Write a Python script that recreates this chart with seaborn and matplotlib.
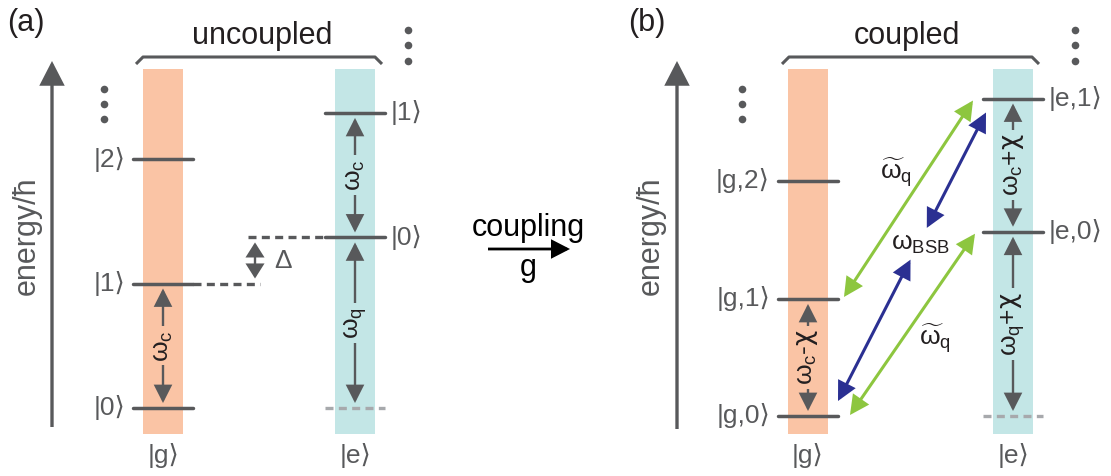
import matplotlib
matplotlib.use("Agg")
import matplotlib.pyplot as plt
from matplotlib.patches import Rectangle, FancyArrowPatch, PathPatch
from matplotlib.path import Path
import pandas as pd
import seaborn as sns

sns.set_theme(style="white")
plt.rcParams["font.family"] = ["Liberation Sans", "DejaVu Sans"]
plt.rcParams["mathtext.fontset"] = "custom"
plt.rcParams["mathtext.rm"] = "Liberation Sans"
plt.rcParams["mathtext.it"] = "Liberation Sans"
plt.rcParams["mathtext.sf"] = "DejaVu Sans"
plt.rcParams["mathtext.default"] = "regular"

# ---- level energies (in units of the bare cavity spacing) ----
uncoupled_g = [0.0, 1.0, 2.0]
uncoupled_g_labels = ["|0⟩", "|1⟩", "|2⟩"]
uncoupled_e = [1.37, 2.37]
uncoupled_e_labels = ["|0⟩", "|1⟩"]

coupled_g = [0.0, 0.94, 1.89]
coupled_g_labels = ["|g,0⟩", "|g,1⟩", "|g,2⟩"]
coupled_e = [1.48, 2.55]
coupled_e_labels = ["|e,0⟩", "|e,1⟩"]

column_labels = ["|g⟩", "|e⟩"]

# ---- styling ----
GRAY = "#58595B"
LIGHT = "#A7A9AC"
DARK = "#231F20"
ORANGE = "#FAC4A5"
CYAN = "#C3E6E6"
GREEN = "#8DC63F"
BLUE = "#2B3092"
SCALE = 124.5  # pixels per energy unit

fig = plt.figure(figsize=(11.11, 4.76), dpi=100)
ax = fig.add_axes([0, 0, 1, 1])
ax.set_xlim(0, 1111)
ax.set_ylim(476, 0)
ax.axis("off")

panels = {
    "a": dict(base=408, axis_x=52, axis_bot=427, g_bar=143, e_bar=335,
              g_lev=(133, 193), e_lev=(325, 385), dots_l=104, dots_r=408,
              tag_x=26, title="uncoupled", title_x=262, brace=(136, 382),
              elabel_x=27),
    "b": dict(base=416, axis_x=677, axis_bot=429, g_bar=788, e_bar=993,
              g_lev=(778, 838), e_lev=(983, 1043), dots_l=742, dots_r=1075,
              tag_x=647, title="coupled", title_x=907, brace=(782, 1039),
              elabel_x=651),
}


def ypos(p, E):
    return p["base"] - SCALE * E


def arrow(p0, p1, style="<|-|>", color=GRAY, lw=1.7, hl=0.75, hw=0.38, ms=14):
    ax.add_patch(FancyArrowPatch(
        p0, p1, arrowstyle=f"{style},head_length={hl},head_width={hw}",
        mutation_scale=ms, color=color, lw=lw, shrinkA=0, shrinkB=0,
        joinstyle="miter", capstyle="butt"))


def gap_label(x, y0, y1, text, bg):
    arrow((x, y0 + 5), (x, y1 - 5))
    ax.text(x, (y0 + y1) / 2, text, rotation=90, ha="center", va="center",
            fontsize=19, color=DARK,
            bbox=dict(boxstyle="square,pad=0.15", fc=bg, ec="none"))


def draw_frame(key, g_levels, e_levels, g_labels, e_labels):
    p = panels[key]
    BW = 40
    for x0, c in ((p["g_bar"], ORANGE), (p["e_bar"], CYAN)):
        ax.add_patch(Rectangle((x0, 69), BW, 365, fc=c, ec="none", zorder=0))

    # energy axis
    arrow((p["axis_x"], p["axis_bot"]), (p["axis_x"], 61), style="-|>",
          lw=2.4, hl=0.7, hw=0.36, ms=20)
    ax.text(p["elabel_x"], 236, "energy/ħ", rotation=90, ha="center",
            va="center", fontsize=22, color=GRAY)

    # panel tag, title and brace
    ax.text(p["tag_x"], 23, f"({key})", ha="center", va="center",
            fontsize=22, color=DARK)
    ax.text(p["title_x"], 36, p["title"], ha="center", va="center",
            fontsize=22, color=DARK)
    bx0, bx1 = p["brace"]
    brace = Path([(bx0, 64), (bx0 + 7, 57), (bx1 - 7, 57), (bx1, 64)],
                 [Path.MOVETO, Path.LINETO, Path.LINETO, Path.LINETO])
    ax.add_patch(PathPatch(brace, fc="none", ec=GRAY, lw=2.2,
                           joinstyle="round"))

    # continuation dots
    for xd, ys in ((p["dots_l"], (89, 104, 119)), (p["dots_r"], (30, 45, 61))):
        ax.scatter([xd] * 3, ys, s=30, color=GRAY, zorder=3, linewidths=0)

    # energy levels through seaborn
    rows = []
    for i, E in enumerate(g_levels):
        for x in p["g_lev"]:
            rows.append(dict(x=x, y=ypos(p, E), unit=f"g{i}"))
    for i, E in enumerate(e_levels):
        for x in p["e_lev"]:
            rows.append(dict(x=x, y=ypos(p, E), unit=f"e{i}"))
    df = pd.DataFrame(rows)
    sns.lineplot(data=df, x="x", y="y", units="unit", estimator=None,
                 color=GRAY, lw=2.5, ax=ax, legend=False, zorder=2)

    # the |e> ground reference (empty) level
    ax.plot(p["e_lev"], [ypos(p, 0)] * 2, color=LIGHT, lw=2.4,
            dashes=(2.4, 1.6), solid_capstyle="butt", zorder=2)

    # state labels
    for E, lab in zip(g_levels, g_labels):
        ax.text(p["g_lev"][0] - 8, ypos(p, E), lab, ha="right", va="center",
                fontsize=19, color=GRAY)
    for E, lab in zip(e_levels, e_labels):
        ax.text(p["e_lev"][1] + 6, ypos(p, E), lab, ha="left", va="center",
                fontsize=19, color=GRAY)
    for x0, lab in zip((p["g_bar"], p["e_bar"]), column_labels):
        ax.text(x0 + BW / 2, 455, lab, ha="center", va="center",
                fontsize=19, color=GRAY)
    return p


# ---------------- panel (a): uncoupled ----------------
pa = draw_frame("a", uncoupled_g, uncoupled_e,
                uncoupled_g_labels, uncoupled_e_labels)
gx = pa["g_bar"] + 20
ex = pa["e_bar"] + 20
y_g0, y_g1 = ypos(pa, uncoupled_g[0]), ypos(pa, uncoupled_g[1])
y_e0, y_e1 = ypos(pa, uncoupled_e[0]), ypos(pa, uncoupled_e[1])
gap_label(gx, y_g1, y_g0, r"$\omega_c$", ORANGE)
gap_label(ex, y_e1, y_e0, r"$\omega_c$", CYAN)
gap_label(ex, y_e0, ypos(pa, 0), r"$\omega_q$", CYAN)

# detuning between cavity photon and qubit excitation
ax.plot([pa["g_lev"][1], 260], [y_g1, y_g1], color=GRAY, lw=2.4,
        dashes=(2.4, 1.6), solid_capstyle="butt")
ax.plot([248, pa["e_lev"][0]], [y_e0, y_e0], color=GRAY, lw=2.4,
        dashes=(2.4, 1.6), solid_capstyle="butt")
arrow((255, y_e0 + 5), (255, y_g1 - 5), hl=0.6, hw=0.38, ms=14)
ax.text(283, (y_e0 + y_g1) / 2 + 1, "Δ", ha="center", va="center",
        fontsize=19, color=GRAY)

# coupling arrow between panels
ax.text(528, 228, "coupling", ha="center", va="center", fontsize=22,
        color="black")
arrow((488, 249), (570, 249), style="-|>", color="black", lw=2.0,
      hl=0.7, hw=0.36, ms=15)
ax.text(528, 268, "g", ha="center", va="center", fontsize=22, color="black")

# ---------------- panel (b): coupled ----------------
pb = draw_frame("b", coupled_g, coupled_e, coupled_g_labels, coupled_e_labels)
gx = pb["g_bar"] + 20
ex = pb["e_bar"] + 20
yg = [ypos(pb, E) for E in coupled_g]
ye = [ypos(pb, E) for E in coupled_e]
gap_label(gx, yg[1], yg[0], r"$\omega_c$-$\mathsf{\chi}$", ORANGE)
gap_label(ex, ye[1], ye[0], r"$\omega_c$+$\mathsf{\chi}$", CYAN)
gap_label(ex, ye[0], ypos(pb, 0), r"$\omega_q$+$\mathsf{\chi}$", CYAN)

# qubit transitions (green) for 0 and 1 photons
gR = pb["g_lev"][1]
eL = pb["e_lev"][0]
arrow((gR + 6, yg[1] - 2), (eL - 10, ye[1] + 2), color=GREEN, lw=2.2)
arrow((gR + 12, yg[0] - 1), (eL - 8, ye[0] + 2), color=GREEN, lw=2.2)
ax.text(896, 172, r"$\widetilde{\omega}_q$", ha="center", va="center",
        fontsize=19, color=DARK)
ax.text(935, 338, r"$\widetilde{\omega}_q$", ha="center", va="center",
        fontsize=19, color=DARK)

# blue sideband transition |g,0> <-> |e,1>, broken by its label
p0 = (gR, yg[0] - 15)
p1 = (eL + 3, ye[1] + 14)


def along(t):
    return (p0[0] + t * (p1[0] - p0[0]), p0[1] + t * (p1[1] - p0[1]))


arrow(p0, along(0.49), style="<|-|>", color=BLUE, lw=2.2)
arrow(along(0.60), p1, style="<|-|>", color=BLUE, lw=2.2)
ax.text(920, 244, r"$\omega_{BSB}$", ha="center", va="center",
        fontsize=19, color=DARK)

fig.savefig("out.png", dpi=100)
